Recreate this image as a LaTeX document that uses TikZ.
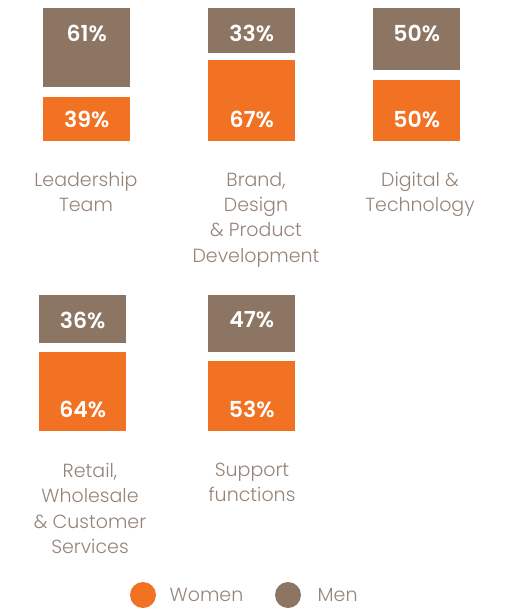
\documentclass[tikz,border=0pt]{standalone}
\usepackage{fontspec}
\setmainfont{Poppins}
\newfontfamily\lightfont{Poppins}[UprightFont=* Light]
\newfontfamily\semifont{Poppins}[UprightFont=* SemiBold]
\usetikzlibrary{positioning}
\definecolor{womenorange}{RGB}{242,114,36}
\definecolor{menbrown}{RGB}{140,117,99}
\definecolor{labelgray}{RGB}{150,132,120}

\begin{document}
\begin{tikzpicture}[x=1pt, y=-1pt]
        \tikzstyle{bar} = [rectangle, inner sep=0pt, minimum width=87pt, anchor=north west]
        \tikzstyle{pct} = [text=white, inner sep=0pt, font=\semifont\fontsize{22}{26}\selectfont]
        \tikzstyle{cat} = [text=labelgray, inner sep=0pt, anchor=north, align=center, font=\lightfont\fontsize{19}{25.3}\selectfont]
        \tikzstyle{dot} = [circle, inner sep=0pt, minimum size=26pt]

        \useasboundingbox (0,0) rectangle (506,608);

        % bars: group/left/men top/men height/women top/women height/men/women
        \foreach \g/\x/\mt/\mh/\wt/\wh/\mv/\wv in {1/43/8/79/97/44/61/39, 2/208/8/45/60/81/33/67,
            3/373/8/62/80/61/50/50, 4/39/295/48/352/79/36/64, 5/208/295/57/361/70/47/53}{
            \node[bar, fill=menbrown, minimum height=\mh pt] (m\g) at (\x,\mt){};
            \node[bar, fill=womenorange, minimum height=\wh pt] (w\g) at (\x,\wt){};
            \node[pct] (mv\g) at ([yshift=-25pt]m\g.north){\mv\%};
            \node[pct] (wv\g) at ([yshift=22pt]w\g.south){\wv\%};
        }

        % category names
        \node[cat] (c1) at (86,172){Leadership\\Team};
        \node[cat] (c2) at (256,172){Brand,\\Design\\\& Product\\Development};
        \node[cat] (c3) at (420,172){Digital \&\\Technology};
        \node[cat] (c4) at (90,463){Retail,\\Wholesale\\\& Customer\\Services};
        \node[cat] (c5) at (252,463){Support\\functions};

        % legend
        \node[dot, fill=womenorange] (womendot) at (143,595){};
        \node[text=labelgray, font=\lightfont\fontsize{19}{22}\selectfont, right=10pt of womendot] (women){Women};
        \node[dot, fill=menbrown] (mendot) at (288,595){};
        \node[text=labelgray, font=\lightfont\fontsize{19}{22}\selectfont, right=13pt of mendot] (men){Men};
\end{tikzpicture}
\end{document}
